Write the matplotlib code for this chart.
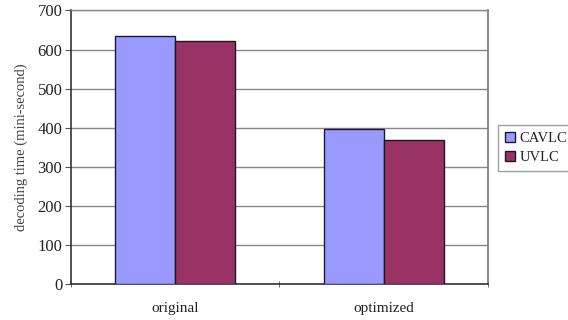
import matplotlib
matplotlib.use("Agg")
import matplotlib.pyplot as plt
import numpy as np

categories = ["original", "optimized"]
series_names = ["CAVLC", "UVLC"]
cavlc = [634, 397]
uvlc = [622, 369]
yticks = [0, 100, 200, 300, 400, 500, 600, 700]

plt.rcParams['font.family'] = ['Liberation Serif', 'DejaVu Serif']

fig = plt.figure(figsize=(5.68, 3.2), dpi=100)
ax = fig.add_axes([0.1245, 0.1125, 0.7346, 0.8547])

x = np.arange(len(categories))
w = 0.288
ax.bar(x - w/2, cavlc, w, color="#9999FF", edgecolor="#1a1a33", linewidth=1.0,
       label=series_names[0], zorder=3)
ax.bar(x + w/2, uvlc, w, color="#993366", edgecolor="#1a1a1a", linewidth=1.0,
       label=series_names[1], zorder=3)

ax.set_xlim(-0.5, 1.5)
ax.set_ylim(0, 700)
ax.set_yticks(yticks)
ax.set_yticklabels([str(v) for v in yticks], fontsize=12, color="#222222")
ax.yaxis.grid(True, color="#888888", linewidth=1.0, zorder=0)
ax.set_axisbelow(True)

ax.set_xticks(x)
ax.set_xticklabels(categories, fontsize=11, color="#222222")
ax.set_xticks([-0.5, 0.5, 1.5], minor=True)
ax.tick_params(axis='x', which='major', length=0, pad=13)
ax.tick_params(axis='x', which='minor', length=4, direction='inout', color="#555555")
ax.tick_params(axis='y', length=4, direction='out', color="#555555", pad=2)

for s in ['left', 'bottom']:
    ax.spines[s].set_color("#333333")
    ax.spines[s].set_linewidth(1.2)
ax.spines['right'].set_color("#777777")
ax.spines['right'].set_linewidth(1.2)
ax.spines['top'].set_color("#888888")
ax.spines['top'].set_linewidth(1.0)

ax.set_ylabel("decoding time (mini-second)", fontsize=10.5, color="#444444", labelpad=7)

leg = ax.legend(loc='upper left', bbox_to_anchor=(1.025, 0.58), fontsize=10.5,
                frameon=True, fancybox=False, edgecolor="#888888",
                handlelength=0.7, handleheight=0.7, handletextpad=0.3,
                borderpad=0.45, labelspacing=0.4, borderaxespad=0)
leg.get_frame().set_linewidth(1.0)
for t in leg.get_texts():
    t.set_color("#222222")

fig.savefig("out.png", dpi=100)
